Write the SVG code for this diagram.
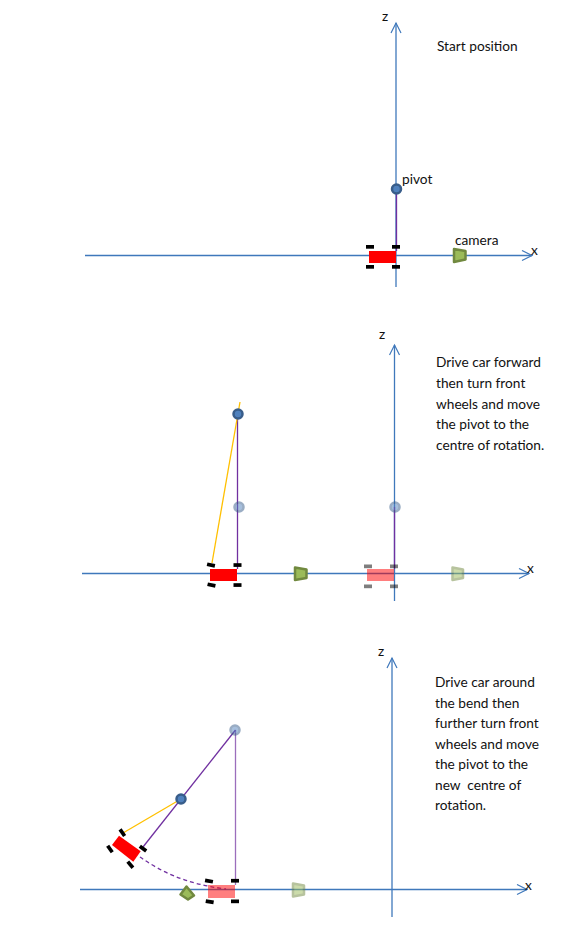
<svg xmlns="http://www.w3.org/2000/svg" width="581" height="935" viewBox="0 0 581 935">
<style>
text{font-family:"Lato","Open Sans","Liberation Sans",sans-serif;font-size:13.700px;fill:#111}
.ax{fill:none;stroke:#3f78bb;stroke-width:1.300}
.pu{fill:none;stroke:#7030a0;stroke-width:1.300}
.ye{fill:none;stroke:#ffc000;stroke-width:1.300}
.car{fill:#f00}
.wh{fill:#000}
.cam{fill:#9bbb59;stroke:#71893f;stroke-width:2.500;stroke-linejoin:round}
.piv{fill:#4f81bd;stroke:#385d8a;stroke-width:2.500}
.fade{opacity:.5}
</style>
<defs>
<marker id="a" markerWidth="14" markerHeight="14" refX="12" refY="6" orient="auto" markerUnits="userSpaceOnUse"><path d="M2 1 12 6 2 11" fill="none" stroke="#3f78bb" stroke-width="1.200"/></marker>
</defs>
<g id="connectors">
<path class="ax" d="M85 255.500H532" marker-end="url(#a)"/>
<path class="ax" d="M396 287V23" marker-end="url(#a)"/>
<path class="pu" d="M396.500 189V251"/>
<path class="ax" d="M82 573.500H529" marker-end="url(#a)"/>
<path class="ax" d="M394.500 601V345" marker-end="url(#a)"/>
<path class="pu" d="M394.500 507V569"/>
<path class="pu" d="M237.500 414V569"/>
<path class="ye" d="M240 402 212 563"/>
<path class="ax" d="M80 889.500H527" marker-end="url(#a)"/>
<path class="ax" d="M392 917V658" marker-end="url(#a)"/>
<path class="pu" d="M235.500 730 143 847"/>
<path class="pu" opacity=".7" d="M235.500 730V885"/>
<path class="ye" d="M181 799 123 833"/>
<path class="pu" stroke-dasharray="4 3" d="M140 857C160 871 185 884 226 889"/>
</g>
<g id="car1"><rect class="car" x="369" y="251" width="27" height="12"/>
<rect class="wh" x="366" y="245" width="8" height="3.700"/><rect class="wh" x="392" y="245" width="8" height="3.700"/><rect class="wh" x="366" y="265" width="8" height="3.700"/><rect class="wh" x="392" y="265" width="8" height="3.700"/></g>
<g id="pivot1"><circle class="piv" cx="396.500" cy="189" r="4.500"/></g>
<g id="camera1"><path class="cam" d="M454 249 465.500 251V259.500L454 262Z"/></g>
<g id="label1">
<text x="382" y="21">z</text><text x="531" y="255">x</text>
<text x="437" y="51">Start position</text><text x="402" y="184">pivot</text><text x="455" y="245">camera</text>
</g>
<g id="car2-ghost" class="fade"><rect class="car" x="367" y="569" width="27" height="12"/>
<rect class="wh" x="364" y="564.500" width="8" height="3.700"/><rect class="wh" x="390" y="564.500" width="8" height="3.700"/><rect class="wh" x="364" y="584.500" width="8" height="3.700"/><rect class="wh" x="390" y="584.500" width="8" height="3.700"/></g>
<g id="car2"><rect class="car" x="210" y="569" width="27" height="12"/>
<rect class="wh" x="207" y="563.200" width="8" height="3.700" transform="rotate(12 211 565)"/><rect class="wh" x="233.500" y="563.200" width="8" height="3.700"/><rect class="wh" x="207.500" y="583.200" width="8" height="3.700" transform="rotate(12 211.500 585)"/><rect class="wh" x="233.500" y="583.200" width="8" height="3.700"/></g>
<g id="pivot2"><circle class="piv" cx="238" cy="414" r="4.500"/></g>
<g id="pivot2-ghost1" class="fade"><circle class="piv" cx="239" cy="507" r="4.500"/></g>
<g id="pivot2-ghost2" class="fade"><circle class="piv" cx="395" cy="507" r="4.500"/></g>
<g id="camera2"><path class="cam" d="M295 567.500 306.500 569.500V578L295 580Z"/></g>
<g id="camera2-ghost" class="fade"><path class="cam" d="M452.500 567.500 463 569.500V578L452.500 580Z"/></g>
<g id="label2">
<text x="379" y="339">z</text><text x="527" y="573">x</text>
<text x="436" y="367">Drive car forward</text><text x="436" y="388">then turn front</text><text x="436" y="409">wheels and move</text><text x="436" y="429">the pivot to the</text><text x="436" y="450">centre of rotation.</text>
</g>
<g id="car3-ghost"><rect class="car fade" x="208" y="885" width="27" height="13"/>
<rect class="wh" x="205" y="879.200" width="8" height="3.700" transform="rotate(10 209 881)"/><rect class="wh" x="231" y="878.900" width="8" height="3.700"/><rect class="wh" x="205.700" y="899.900" width="8" height="3.700" transform="rotate(10 209.700 901.700)"/><rect class="wh" x="231" y="899.500" width="8" height="3.700"/></g>
<g id="car3"><path class="car" d="M119 835.700 140.700 851.300 133.300 861.700 112 845Z"/>
<rect class="wh" x="118.300" y="830.800" width="8" height="3.700" transform="rotate(55 122.300 832.700)"/><rect class="wh" x="139" y="846.800" width="8" height="3.700" transform="rotate(37 143 848.700)"/><rect class="wh" x="106" y="847.200" width="8" height="3.700" transform="rotate(55 110 849)"/><rect class="wh" x="126.300" y="862.800" width="8" height="3.700" transform="rotate(50 130.300 864.700)"/></g>
<g id="pivot3"><circle class="piv" cx="181" cy="799" r="4.500"/></g>
<g id="pivot3-ghost" class="fade"><circle class="piv" cx="235" cy="730" r="4.500"/></g>
<g id="camera3"><path class="cam" d="M186.500 886.500 194 895.500 188 899.500 180.500 894.500Z"/></g>
<g id="camera3-ghost" class="fade"><path class="cam" d="M293 883.500 304 885.500V894.500L293 896.500Z"/></g>
<g id="label3">
<text x="378" y="656">z</text><text x="525" y="890">x</text>
<text x="435" y="687">Drive car around</text><text x="435" y="708">the bend then</text><text x="435" y="728">further turn front</text><text x="435" y="749">wheels and move</text><text x="435" y="769">the pivot to the</text><text x="435" y="790" xml:space="preserve">new  centre of</text><text x="435" y="810">rotation.</text>
</g>
</svg>
